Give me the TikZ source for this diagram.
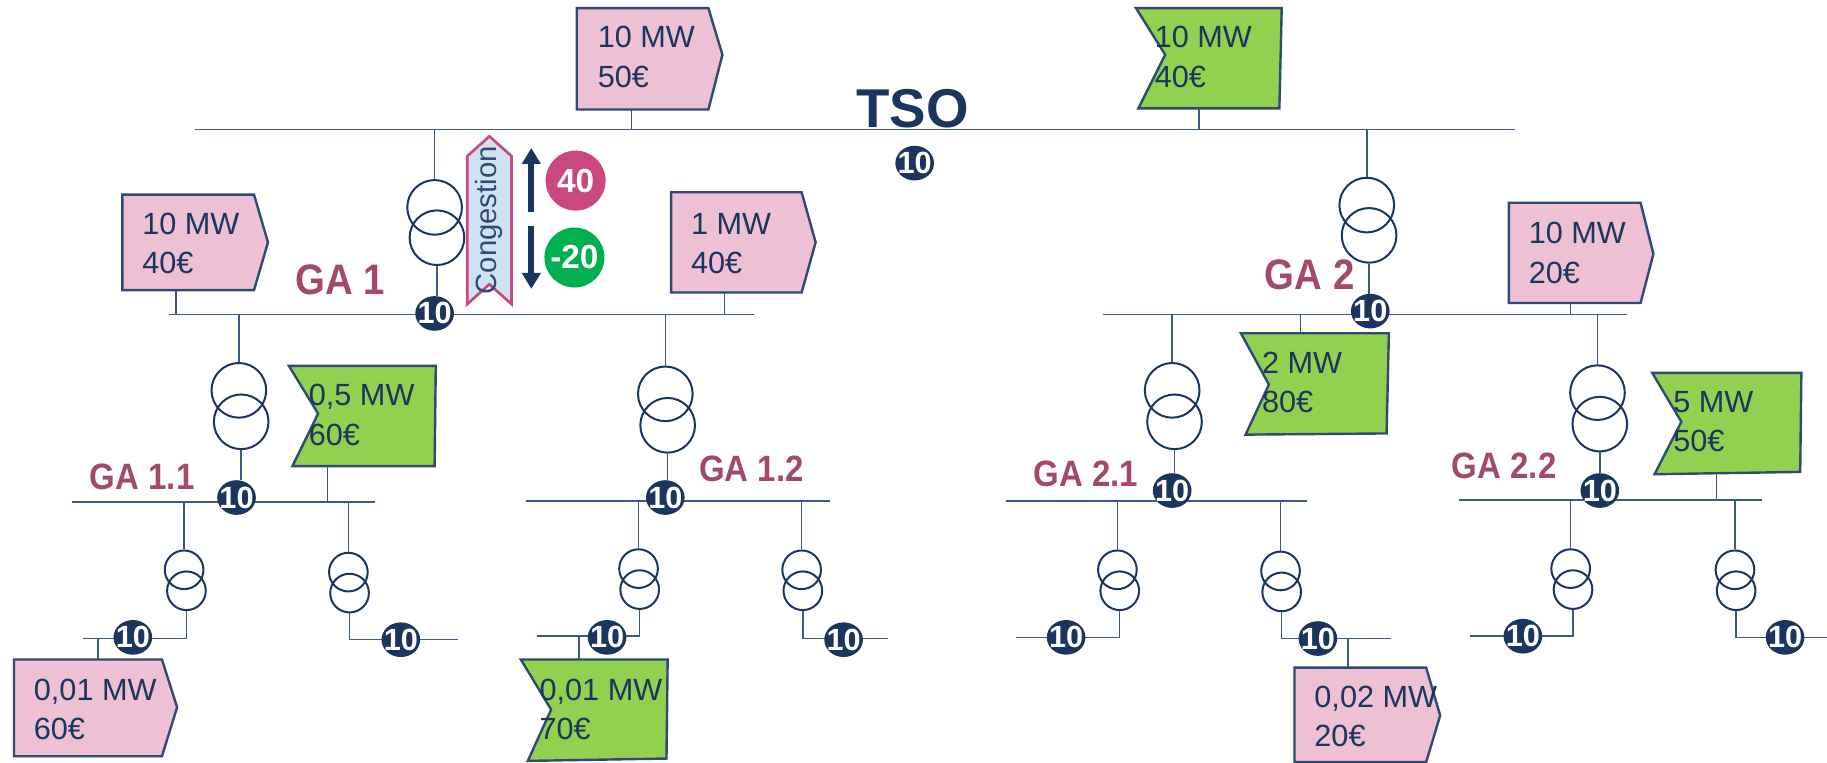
\documentclass[tikz,border=0pt]{standalone}
\usepackage{fontspec}
\setmainfont{Liberation Sans}
\newfontfamily\gafont[FakeStretch=0.9]{Liberation Sans}
\usetikzlibrary{arrows.meta,shapes.geometric}
\definecolor{navy}{RGB}{28,53,94}
\definecolor{wire}{RGB}{60,90,135}
\definecolor{boxline}{RGB}{48,74,115}
\definecolor{offerpink}{RGB}{237,192,211}
\definecolor{offergreen}{RGB}{146,209,79}
\definecolor{galabel}{RGB}{163,74,108}
\definecolor{conpink}{RGB}{201,72,127}
\definecolor{conblue}{RGB}{207,226,243}
\definecolor{badgegreen}{RGB}{0,176,80}
\tikzset{
  wireline/.style={draw=wire,line width=1.1pt},
  sell/.style={draw=boxline,fill=offerpink,line width=1.8pt},
  buy/.style={draw=boxline,fill=offergreen,line width=1.8pt},
  offertext/.style={anchor=west,inner sep=0.75pt,align=left,text=navy,font=\fontsize{23}{29.5}\selectfont},
  trbig/.style={circle,draw=navy,line width=1.5pt,minimum size=41pt,inner sep=0pt},
  trsmall/.style={circle,draw=navy,line width=1.5pt,minimum size=29pt,inner sep=0pt},
  badge/.style={ellipse,fill=navy,text=white,inner xsep=-2.6pt,inner ysep=0pt,minimum width=29pt,minimum height=26pt,font=\fontsize{23}{23}\selectfont\bfseries},
  pricebadge/.style={circle,text=white,inner sep=0pt,minimum size=45pt,font=\fontsize{25}{25}\selectfont\bfseries},
  galabelbig/.style={inner sep=0.75pt,text=galabel,font=\gafont\fontsize{32}{32}\selectfont\bfseries},
  galabelsmall/.style={inner sep=0.75pt,text=galabel,font=\gafont\fontsize{27.5}{27.5}\selectfont\bfseries},
  flowarrow/.style={draw=navy,line width=4.5pt,-{Triangle[width=13.5pt,length=12pt]}}
}
\begin{document}
\begin{tikzpicture}[x=0.874pt,y=0.874pt,yscale=-1,xscale=1]
\useasboundingbox (0,0) rectangle (1568,654);

%Straight Lines: bars
\coordinate (tsoL) at (167,111);
\coordinate (tsoR) at (1300,111);
\coordinate (gaoneL) at (145,270);
\coordinate (gaoneR) at (647,270);
\coordinate (gatwoL) at (947,270);
\coordinate (gatwoR) at (1396,270);
\coordinate (gaooL) at (62,431);
\coordinate (gaooR) at (322,431);
\coordinate (gaotL) at (451,430);
\coordinate (gaotR) at (712,430);
\coordinate (gatoL) at (863,430);
\coordinate (gatoR) at (1122,430);
\coordinate (gattL) at (1252,429);
\coordinate (gattR) at (1512,429);
\draw[wireline] (tsoL) -- (tsoR);
\draw[wireline] (gaoneL) -- (gaoneR);
\draw[wireline] (gatwoL) -- (gatwoR);
\draw[wireline] (gaooL) -- (gaooR);
\draw[wireline] (gaotL) -- (gaotR);
\draw[wireline] (gatoL) -- (gatoR);
\draw[wireline] (gattL) -- (gattR);

%Shape: Circle, big transformers
\node[trbig] (trone) at (373,178) {};
\node[trbig] (tronelow) at (375,204) {};
\node[trbig] (trtwo) at (1173,176) {};
\node[trbig] (trtwolow) at (1175,202) {};
\node[trbig] (troo) at (205,335) {};
\node[trbig] (troolow) at (207,362) {};
\node[trbig] (trot) at (571,338) {};
\node[trbig] (trotlow) at (573,365) {};
\node[trbig] (trto) at (1006,335) {};
\node[trbig] (trtolow) at (1008,362) {};
\node[trbig] (trtt) at (1371,337) {};
\node[trbig] (trttlow) at (1373,364) {};

%Shape: Circle, small transformers
\node[trsmall] (lva) at (158,489) {};
\node[trsmall] (lvalow) at (160,507) {};
\node[trsmall] (lvb) at (299,491) {};
\node[trsmall] (lvblow) at (300,509) {};
\node[trsmall] (lvc) at (548,488) {};
\node[trsmall] (lvclow) at (549,506) {};
\node[trsmall] (lvd) at (688,489) {};
\node[trsmall] (lvdlow) at (689,507) {};
\node[trsmall] (lve) at (959,489) {};
\node[trsmall] (lvelow) at (961,507) {};
\node[trsmall] (lvf) at (1099,490) {};
\node[trsmall] (lvflow) at (1100,508) {};
\node[trsmall] (lvg) at (1348,488) {};
\node[trsmall] (lvglow) at (1350,506) {};
\node[trsmall] (lvh) at (1489,489) {};
\node[trsmall] (lvhlow) at (1490,507) {};

%Straight Lines: upper connections
\draw[wireline] (trone.north) -- (trone.north |- tsoL);
\draw[wireline] (trtwo.north) -- (trtwo.north |- tsoL);
\draw[wireline] (troo.north) -- (troo.north |- gaoneL);
\draw[wireline] (trot.north) -- (trot.north |- gaoneL);
\draw[wireline] (trto.north) -- (trto.north |- gatwoL);
\draw[wireline] (trtt.north) -- (trtt.north |- gatwoL);
\draw[wireline] (lva.north) -- (lva.north |- gaooL);
\draw[wireline] (lvb.north) -- (lvb.north |- gaooL);
\draw[wireline] (lvc.north) -- (lvc.north |- gaotL);
\draw[wireline] (lvd.north) -- (lvd.north |- gaotL);
\draw[wireline] (lve.north) -- (lve.north |- gatoL);
\draw[wireline] (lvf.north) -- (lvf.north |- gatoL);
\draw[wireline] (lvg.north) -- (lvg.north |- gattL);
\draw[wireline] (lvh.north) -- (lvh.north |- gattL);

%Straight Lines: low voltage bars
\coordinate (lvaend) at (71,548);
\coordinate (lvbend) at (393,549);
\coordinate (lvcend) at (461,546);
\coordinate (lvdend) at (762,548);
\coordinate (lveend) at (872,547);
\coordinate (lvfend) at (1194,548);
\coordinate (lvgend) at (1262,546);
\coordinate (lvhend) at (1568,547);
\draw[wireline] (lvalow.south) |- (lvaend);
\draw[wireline] (lvblow.south) |- (lvbend);
\draw[wireline] (lvclow.south) |- (lvcend);
\draw[wireline] (lvdlow.south) |- (lvdend);
\draw[wireline] (lvelow.south) |- (lveend);
\draw[wireline] (lvflow.south) |- (lvfend);
\draw[wireline] (lvglow.south) |- (lvgend);
\draw[wireline] (lvhlow.south) |- (lvhend);

%Shape: offers, with their stubs
\coordinate (oa) at (542,94);
\coordinate (ob) at (1029,93);
\coordinate (oc) at (151,249);
\coordinate (od) at (622,251);
\coordinate (oe) at (1348,260);
\coordinate (of) at (1116,286);
\coordinate (og) at (281,400);
\coordinate (oh) at (1473,407);
\coordinate (oi) at (84,566);
\coordinate (oj) at (497,566);
\coordinate (ok) at (1157,573);
\draw[wireline] (oa) -- (oa |- tsoL);
\draw[wireline] (ob) -- (ob |- tsoL);
\draw[wireline] (oc) -- (oc |- gaoneL);
\draw[wireline] (od) -- (od |- gaoneL);
\draw[wireline] (oe) -- (oe |- gatwoL);
\draw[wireline] (of) -- (of |- gatwoL);
\draw[wireline] (og) -- (og |- gaooL);
\draw[wireline] (oh) -- (oh |- gattL);
\draw[wireline] (oi) -- (oi |- lvaend);
\draw[wireline] (oj) -- (oj |- lvcend);
\draw[wireline] (ok) -- (ok |- lvfend);

\draw[sell] (495,7) -- (608,7) -- (620,47) -- (608,94) -- (495,94) -- cycle;
\draw[buy] (975,7) -- (1100,7) -- (1098,93) -- (977,93) -- (1000,47) -- cycle;
\draw[sell] (105,167) -- (218,167) -- (230,208) -- (218,249) -- (105,249) -- cycle;
\draw[sell] (576,165) -- (688,165) -- (700,208) -- (688,251) -- (576,251) -- cycle;
\draw[sell] (1295,174) -- (1408,174) -- (1419,218) -- (1408,260) -- (1295,260) -- cycle;
\draw[buy] (1065,286) -- (1192,286) -- (1190,372) -- (1069,373) -- (1089,330) -- cycle;
\draw[buy] (248,314) -- (374,314) -- (373,400) -- (251,400) -- (273,355) -- cycle;
\draw[buy] (1418,320) -- (1546,320) -- (1545,405) -- (1420,407) -- (1443,362) -- cycle;
\draw[sell] (12,566) -- (139,566) -- (152,607) -- (139,649) -- (12,649) -- cycle;
\draw[buy] (447,566) -- (573,566) -- (572,651) -- (453,653) -- (473,609) -- cycle;
\draw[sell] (1111,573) -- (1224,573) -- (1236,614) -- (1224,654) -- (1111,654) -- cycle;

% Text Node
\node[offertext] (ta) at (512,49) {10 MW\\50€};
\node[offertext] (tb) at (990,49) {10 MW\\40€};
\node[offertext] (tc) at (121,209) {10 MW\\40€};
\node[offertext] (td) at (592,209) {1 MW\\40€};
\node[offertext] (te) at (1311,217) {10 MW\\20€};
\node[offertext] (tf) at (1082,328) {2 MW\\80€};
\node[offertext] (tg) at (264,356) {0,5 MW\\60€};
\node[offertext] (th) at (1435,362) {5 MW\\50€};
\node[offertext] (ti) at (28,609) {0,01 MW\\60€};
\node[offertext] (tj) at (462,609) {0,01 MW\\70€};
\node[offertext] (tk) at (1127,615) {0,02 MW\\20€};

\node[inner sep=0.75pt,text=navy,font=\fontsize{41}{41}\selectfont\bfseries] (tso) at (783,93) {TSO};
\node[galabelbig] (gaone) at (292,240) {GA 1};
\node[galabelbig] (gatwo) at (1124,236) {GA 2};
\node[galabelsmall] (gaoo) at (122,409) {GA 1.1};
\node[galabelsmall] (gaot) at (645,402) {GA 1.2};
\node[galabelsmall] (gato) at (932,407) {GA 2.1};
\node[galabelsmall] (gatt) at (1291,400) {GA 2.2};

%Shape: Congestion arrow
\draw[draw=conpink,fill=conblue,line width=2pt] (420,117) -- (439,134) -- (439,261) -- (420,244) -- (401,261) -- (401,134) -- cycle;
\node[rotate=90,inner sep=0.75pt,text=boxline,font=\fontsize{22}{22}\selectfont] (cong) at (420,189) {Congestion};
\coordinate (upfrom) at (456,182);
\coordinate (upto) at (456,127);
\coordinate (downfrom) at (456,194);
\coordinate (downto) at (456,248);
\draw[flowarrow] (upfrom) -- (upto);
\draw[flowarrow] (downfrom) -- (downto);
\node[pricebadge,fill=conpink] (pup) at (494,155) {40};
\node[pricebadge,fill=badgegreen] (pdown) at (493,221) {-20};

%Shape: Circle, price badges
\node[badge] (ptso) at (785,140) {10};
\node[badge] (pga1) at (373,269) {10};
\node[badge] (pga2) at (1176,267) {10};
\node[badge] (pgaoo) at (203,427) {10};
\node[badge] (pgaot) at (571,427) {10};
\node[badge] (pgato) at (1006,421) {10};
\node[badge] (pgatt) at (1373,421) {10};
\node[badge] (pa) at (114,547) {10};
\node[badge] (pb) at (344,549) {10};
\node[badge] (pc) at (521,547) {10};
\node[badge] (pd) at (724,549) {10};
\node[badge] (pe) at (915,547) {10};
\node[badge] (pf) at (1131,548) {10};
\node[badge] (pg) at (1307,546) {10};
\node[badge] (ph) at (1532,547) {10};

%Straight Lines: down to the badges
\draw[wireline] (tronelow.south) -- (tronelow.south |- pga1.north);
\draw[wireline] (trtwolow.south) -- (trtwolow.south |- pga2.north);
\draw[wireline] (troolow.south) -- (troolow.south |- pgaoo.north);
\draw[wireline] (trotlow.south) -- (trotlow.south |- pgaot.north);
\draw[wireline] (trtolow.south) -- (trtolow.south |- pgato.north);
\draw[wireline] (trttlow.south) -- (trttlow.south |- pgatt.north);

\end{tikzpicture}
\end{document}
